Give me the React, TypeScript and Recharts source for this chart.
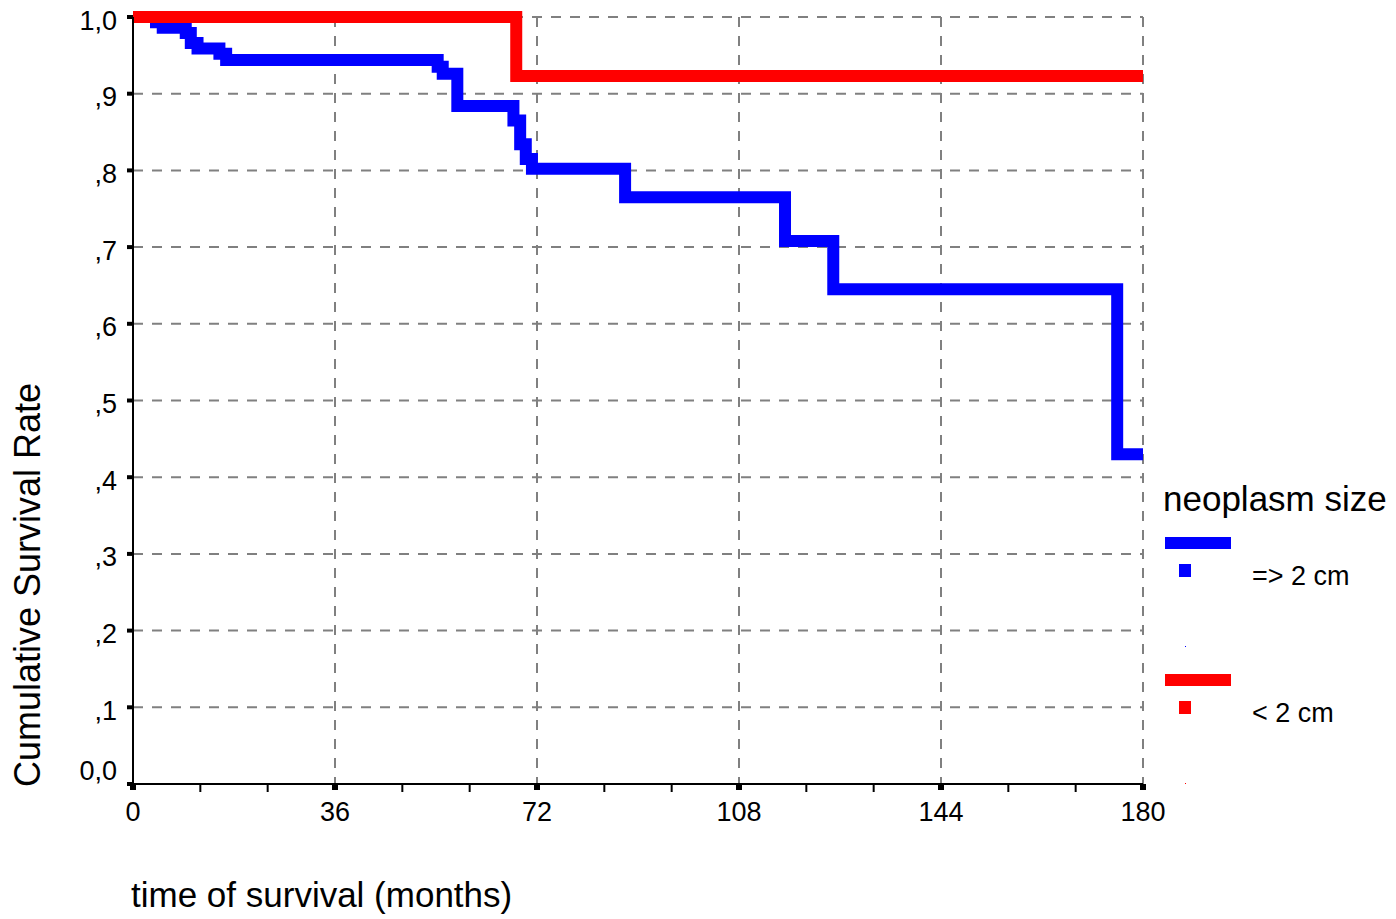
import { CartesianGrid, Line, LineChart, XAxis, YAxis } from "recharts";

const blueMonths = [0, 4.1, 5.3, 9.4, 10.3, 11.5, 15.4, 16.6, 54.3, 55.2, 57.8, 67.8, 69.0, 70.0, 71.1, 87.7, 116.2, 124.8, 175.4, 180];
const blueSurvival = [1.0, 0.993, 0.986, 0.979, 0.966, 0.959, 0.952, 0.944, 0.935, 0.926, 0.884, 0.865, 0.834, 0.815, 0.802, 0.765, 0.708, 0.645, 0.43, 0.43];

const redMonths = [0, 68.3, 180];
const redSurvival = [1.0, 0.923, 0.923];

const yTicks = [0, 0.1, 0.2, 0.3, 0.4, 0.5, 0.6, 0.7, 0.8, 0.9, 1.0];
const yTickLabels = ["0,0", ",1", ",2", ",3", ",4", ",5", ",6", ",7", ",8", ",9", "1,0"];
const xTicks = [0, 12, 24, 36, 48, 60, 72, 84, 96, 108, 120, 132, 144, 156, 168, 180];
const xMajorTicks = [0, 36, 72, 108, 144, 180];
const gridMonths = [36, 72, 108, 144, 180];

const legendTitle = "neoplasm size";
const legendLabels = ["=> 2 cm", "< 2 cm"];
const legendColors = ["#0000ff", "#ff0000"];

const FONT = '"Liberation Sans", Arial, sans-serif';

const blueData = blueMonths.map((month, i) => ({ month, survival: blueSurvival[i] }));
const redData = redMonths.map((month, i) => ({ month, survival: redSurvival[i] }));

const XTick = (props: any) => {
  const { x, y, payload } = props;
  const value = payload.value;
  if (xMajorTicks.includes(value)) {
    return (
      <g>
        <rect x={x - 3} y={y} width={6} height={6} fill="#000" />
        <text x={x} y={y + 37} textAnchor="middle" fontSize={27} fontFamily={FONT} fill="#000">
          {value}
        </text>
      </g>
    );
  }
  return <line x1={x} x2={x} y1={y} y2={y + 8} stroke="#000" strokeWidth={2} />;
};

const YTick = (props: any) => {
  const { x, y, index } = props;
  // the 0,0 label sits a little above its tick, clear of the x axis
  const shift = index === 0 ? -14 : 3;
  return (
    <text x={x} y={y + shift} dy="0.355em" textAnchor="end" fontSize={27} fontFamily={FONT} fill="#000">
      {yTickLabels[index]}
    </text>
  );
};

export default function App() {
  return (
    <div style={{ position: "absolute", left: 0, top: 0, width: 1396, height: 919, background: "#fff" }}>
      <LineChart width={1396} height={919} margin={{ top: 17, right: 253, bottom: 85, left: 73 }}>
        <CartesianGrid
          stroke="#808080"
          strokeDasharray="10 9"
          strokeWidth={2}
          verticalValues={gridMonths}
        />
        <XAxis
          dataKey="month"
          type="number"
          domain={[0, 180]}
          ticks={xTicks}
          interval={0}
          height={50}
          tickLine={false}
          tickSize={0}
          tickMargin={0}
          axisLine={{ stroke: "#000", strokeWidth: 2 }}
          tick={<XTick />}
        />
        <YAxis
          type="number"
          domain={[0, 1]}
          ticks={yTicks}
          interval={0}
          width={60}
          tickSize={6}
          tickMargin={10}
          tick={<YTick />}
          tickLine={{ stroke: "#000", strokeWidth: 4 }}
          axisLine={{ stroke: "#000", strokeWidth: 2 }}
        />
        <Line
          data={blueData}
          dataKey="survival"
          type="stepAfter"
          stroke="#0000ff"
          strokeWidth={12}
          strokeLinejoin="miter"
          strokeLinecap="butt"
          dot={false}
          activeDot={false}
          isAnimationActive={false}
        />
        <Line
          data={redData}
          dataKey="survival"
          type="stepAfter"
          stroke="#ff0000"
          strokeWidth={12}
          strokeLinejoin="miter"
          strokeLinecap="butt"
          dot={false}
          activeDot={false}
          isAnimationActive={false}
        />
      </LineChart>
      <svg
        width={1396}
        height={919}
        style={{ position: "absolute", left: 0, top: 0, pointerEvents: "none" }}
        fontFamily={FONT}
      >
        <text transform="translate(40,585) rotate(-90)" textAnchor="middle" fontSize={36} fill="#000">
          Cumulative Survival Rate
        </text>
        <text x={131} y={907} fontSize={35} fill="#000">
          time of survival (months)
        </text>
        <text x={1163} y={511} fontSize={35} fill="#000">
          {legendTitle}
        </text>
        {legendLabels.map((label, i) => (
          <g key={label} transform={`translate(0,${i * 137})`}>
            <rect x={1165} y={537} width={66} height={12} fill={legendColors[i]} />
            <rect x={1179} y={564} width={12} height={13} fill={legendColors[i]} />
            <rect x={1185} y={646} width={1} height={1} fill={legendColors[i]} />
            <text x={1252} y={585} fontSize={27} fill="#000">
              {label}
            </text>
          </g>
        ))}
      </svg>
    </div>
  );
}
